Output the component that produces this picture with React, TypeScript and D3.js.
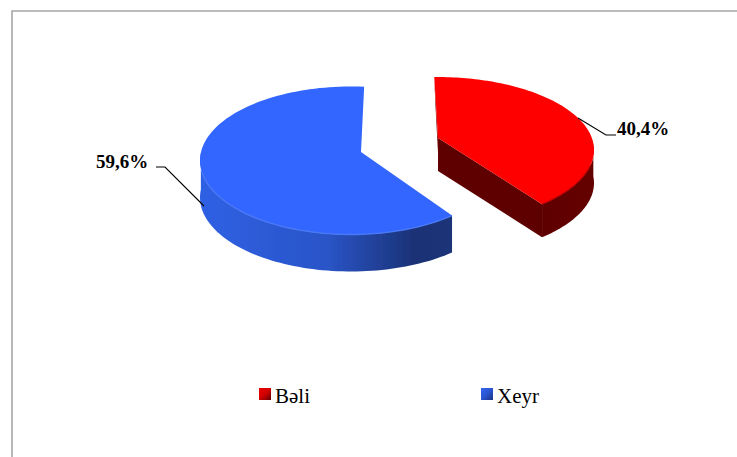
import React from "react";
import * as d3 from "d3";

const categories = ["Bəli", "Xeyr"];
const shares = [40.4, 59.6];
const labels = ["40,4%", "59,6%"];
const colors = ["#ff0000", "#3366ff"];

const W = 737, H = 457;
const pie = d3.pie<number>().sort(null).startAngle(-0.02).endAngle(2 * Math.PI - 0.02);
const slices = pie(shares);

// Per-slice camera: the exploded 3D pie as seen through perspective
const cams = [
  { cx: 437, cy: 150, rx: 157, ry: 73, ax: 438, ay: 138, depth: 33, p0: -1, p1: 138 },
  { cx: 351, cy: 160.5, rx: 151, ry: 74, ax: 361, ay: 152, depth: 37, p0: 138, p1: 365 },
];

function rimPoints(i: number) {
  const c = cams[i];
  const s = slices[i];
  const toPhi = d3.scaleLinear().domain([s.startAngle, s.endAngle]).range([c.p0, c.p1]);
  return d3.range(0, 121).map((k) => {
    const t = s.startAngle + ((s.endAngle - s.startAngle) * k) / 120;
    const phi = (toPhi(t) * Math.PI) / 180;
    return [c.cx + c.rx * Math.sin(phi), c.cy - c.ry * Math.cos(phi)] as [number, number];
  });
}

const line = d3.line<[number, number]>();

function Slice({ i }: { i: number }) {
  const c = cams[i];
  const rim = rimPoints(i);
  const top = line([[c.ax, c.ay], ...rim, [c.ax, c.ay]]) + "Z";
  // outer wall: the part of the rim facing the viewer
  const front = rim.filter((p) => p[1] >= c.cy - 8);
  const shifted = front.slice().reverse().map((p) => [p[0], p[1] + c.depth] as [number, number]);
  const wall = line([...front, ...shifted]) + "Z";
  const cutPt = i === 0 ? rim[rim.length - 1] : rim[0];
  const cut = line([
    [c.ax, c.ay],
    cutPt,
    [cutPt[0], cutPt[1] + c.depth],
    [c.ax, c.ay + c.depth],
  ]) + "Z";
  const bevel = rim.filter((p) => p[1] >= c.cy + 14);
  return (
    <g filter="url(#soft)">
      {i === 0 && (
        <>
          <path d={cut} fill="#5f0000" />
          <path d={wall} fill="url(#redWall)" />
          <path d={line([rim[0], [c.ax, c.ay], [c.ax + 1, c.ay + c.depth], [rim[0][0] + 1, rim[0][1] + 25]]) + "Z"} fill="#7a0000" />
        </>
      )}
      {i === 1 && <path d={wall} fill="url(#blueWall)" />}
      <path d={top} fill={colors[i]} />
      {i === 1 && <path d={line(bevel) ?? ""} fill="none" stroke="#4a78f5" strokeWidth={1.4} />}
      {i === 0 && <path d={line(bevel) ?? ""} fill="none" stroke="#b00000" strokeWidth={1.2} />}
    </g>
  );
}

const labelStyle: React.CSSProperties = {
  fontFamily: '"Liberation Serif", serif',
  fontWeight: 700,
  fontSize: 19,
  fill: "#000",
};
const legendStyle: React.CSSProperties = {
  fontFamily: '"Liberation Serif", serif',
  fontSize: 21,
  fill: "#000",
};

export default function App() {
  return (
    <svg width={W} height={H} style={{ position: "absolute", left: 0, top: 0 }}>
      <defs>
        <filter id="soft" x="-5%" y="-5%" width="110%" height="110%">
          <feGaussianBlur stdDeviation="0.5" />
        </filter>
        <linearGradient id="blueWall" x1="0" x2="1" y1="0" y2="0">
          <stop offset="0" stopColor="#2f60e4" />
          <stop offset="0.5" stopColor="#2a55c8" />
          <stop offset="0.85" stopColor="#1a3276" />
          <stop offset="1" stopColor="#1b3478" />
        </linearGradient>
        <linearGradient id="redWall" x1="0" x2="1" y1="0" y2="0">
          <stop offset="0" stopColor="#5f0000" />
          <stop offset="1" stopColor="#640000" />
        </linearGradient>
        <linearGradient id="swRed" x1="0" x2="1" y1="0" y2="1">
          <stop offset="0" stopColor="#ee0000" />
          <stop offset="0.5" stopColor="#d00000" />
          <stop offset="1" stopColor="#600000" />
        </linearGradient>
        <linearGradient id="swBlue" x1="0" x2="1" y1="0" y2="1">
          <stop offset="0" stopColor="#3366ee" />
          <stop offset="0.5" stopColor="#2a55d0" />
          <stop offset="1" stopColor="#1a3380" />
        </linearGradient>
      </defs>
      <rect width={W} height={H} fill="#fff" />
      <path d={`M12 ${H}V11H${W}`} fill="none" stroke="#a6a6a6" strokeWidth={1.6} />
      <Slice i={1} />
      <Slice i={0} />
      <path d="M578 118L606 135H616" fill="none" stroke="#000" strokeWidth={1.1} />
      <path d="M156 167H165L204 206" fill="none" stroke="#000" strokeWidth={1.1} />
      <text x={617} y={135} style={labelStyle}>{labels[0]}</text>
      <text x={96} y={168} style={labelStyle}>{labels[1]}</text>
      <rect x={259} y={388} width={12} height={12} fill="url(#swRed)" />
      <text x={275} y={403} style={legendStyle}>{categories[0]}</text>
      <rect x={481} y={388} width={12} height={12} fill="url(#swBlue)" />
      <text x={497} y={403} style={legendStyle}>{categories[1]}</text>
    </svg>
  );
}
